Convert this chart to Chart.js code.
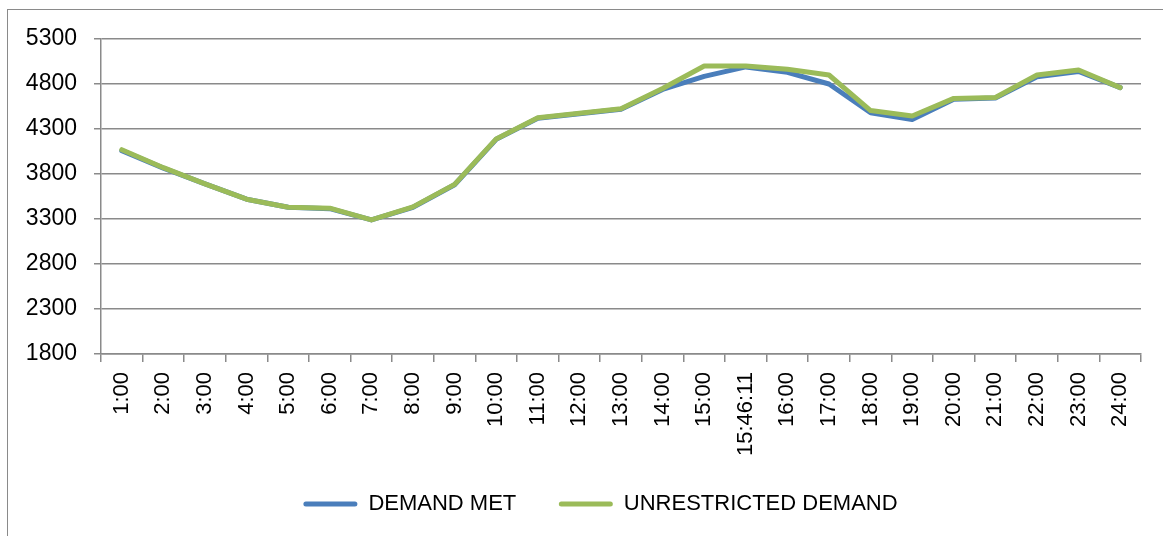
<!DOCTYPE html>
<html>
<head>
<meta charset="utf-8">
<script src="https://cdn.jsdelivr.net/npm/chart.js@4.4.1/dist/chart.umd.min.js"></script>
<style>
  html, body { margin: 0; padding: 0; background: #fff; overflow: hidden; }
  #frame {
    position: absolute; left: 7px; top: 9px; width: 1200px; height: 600px;
    border: 1.5px solid #8a8a8a; box-sizing: border-box;
  }
  #chart { position: absolute; left: 0; top: 0; }
</style>
</head>
<body>
<div id="frame"></div>
<canvas id="chart" width="1163" height="536"></canvas>
<script>
// categories (hour of day, one extra reading at 15:46:11)
const hours = ["1:00", "2:00", "3:00", "4:00", "5:00", "6:00", "7:00", "8:00", "9:00",
  "10:00", "11:00", "12:00", "13:00", "14:00", "15:00", "15:46:11", "16:00", "17:00",
  "18:00", "19:00", "20:00", "21:00", "22:00", "23:00", "24:00"];

// series values (MW)
const demandMet = [4060, 3865, 3690, 3520, 3430, 3415, 3290, 3430, 3680, 4185, 4420, 4470,
  4520, 4740, 4885, 4990, 4930, 4800, 4480, 4405, 4630, 4645, 4880, 4940, 4760];
const unrestricted = [4070, 3870, 3690, 3520, 3430, 3420, 3290, 3435, 3685, 4190, 4425, 4475,
  4525, 4750, 5000, 5000, 4965, 4900, 4505, 4445, 4640, 4650, 4900, 4955, 4760];

// y axis
const yTicks = [1800, 2300, 2800, 3300, 3800, 4300, 4800, 5300];

const GRID = "#8a8a8a";
const FONT = "'Liberation Sans', Arial, sans-serif";

// nudge the legend a little to the right, like the original sheet
const legendShift = {
  id: "legendShift",
  afterLayout(chart) {
    chart.legend.left += 30;
    chart.legend.right += 30;
  }
};

new Chart(document.getElementById("chart"), {
  type: "line",
  data: {
    labels: hours,
    datasets: [
      {
        label: "DEMAND MET",
        data: demandMet,
        borderColor: "#4a7ebb",
        backgroundColor: "#4a7ebb",
        borderWidth: 5,
        pointRadius: 0,
        tension: 0,
        borderJoinStyle: "round",
        borderCapStyle: "round",
        order: 1
      },
      {
        label: "UNRESTRICTED DEMAND",
        data: unrestricted,
        borderColor: "#9bbb59",
        backgroundColor: "#9bbb59",
        borderWidth: 5,
        pointRadius: 0,
        tension: 0,
        borderJoinStyle: "round",
        borderCapStyle: "round",
        order: 0
      }
    ]
  },
  options: {
    responsive: false,
    animation: false,
    layout: { padding: { left: 0, right: 22, top: 39, bottom: 11 } },
    plugins: {
      tooltip: { enabled: false },
      legend: {
        position: "bottom",
        labels: {
          boxWidth: 54,
          boxHeight: 5,
          padding: 12,
          useBorderRadius: true,
          borderRadius: 2.5,
          color: "#000",
          font: { family: FONT, size: 22 },
          sort: (a, b) => a.datasetIndex - b.datasetIndex,
          generateLabels: chart =>
            Chart.defaults.plugins.legend.labels.generateLabels(chart).map(l => ({
              ...l,
              // wider gap after the first entry
              text: l.datasetIndex === 0 ? l.text + "\u00a0\u00a0\u00a0\u00a0\u00a0" : l.text,
              fillStyle: l.strokeStyle,
              lineWidth: 0
            }))
        }
      }
    },
    scales: {
      x: {
        offset: true,
        afterFit: s => { s.height = 127; },
        grid: { offset: true, drawOnChartArea: false, drawTicks: true, tickLength: 8, color: GRID, lineWidth: 1.5 },
        border: { color: GRID, width: 1.5 },
        ticks: {
          autoSkip: false,
          minRotation: 90,
          maxRotation: 90,
          padding: 10,
          color: "#000",
          font: { family: FONT, size: 22 }
        }
      },
      y: {
        min: yTicks[0],
        max: yTicks[yTicks.length - 1],
        afterFit: s => { s.width = 101; },
        afterBuildTicks: s => { s.ticks = yTicks.map(v => ({ value: v })); },
        grid: { color: GRID, lineWidth: 1.5, tickLength: 7 },
        border: { color: GRID, width: 1.5 },
        ticks: {
          padding: 17,
          color: "#000",
          font: { family: FONT, size: 23 },
          callback: v => String(v)
        }
      }
    }
  },
  plugins: [legendShift]
});
</script>
</body>
</html>
